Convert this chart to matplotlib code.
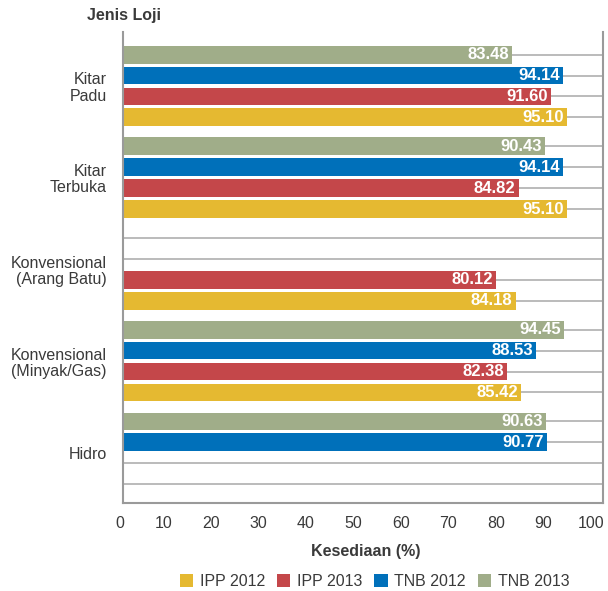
import numpy as np
import matplotlib.pyplot as plt
from matplotlib.patches import Patch

plt.rcParams['font.family'] = ['Liberation Sans', 'DejaVu Sans']

# data
categories = ["Kitar\nPadu", "Kitar\nTerbuka", "Konvensional\n(Arang Batu)",
              "Konvensional\n(Minyak/Gas)", "Hidro"]
series = ["TNB 2013", "TNB 2012", "IPP 2013", "IPP 2012"]
tnb_2013 = [83.48, 90.43, None, 94.45, 90.63]
tnb_2012 = [94.14, 94.14, None, 88.53, 90.77]
ipp_2013 = [91.60, 84.82, 80.12, 82.38, None]
ipp_2012 = [95.10, 95.10, 84.18, 85.42, None]
x_ticks = [10, 20, 30, 40, 50, 60, 70, 80, 90, 100]

colors = {"TNB 2013": "#A0AD89", "TNB 2012": "#0070BA",
          "IPP 2013": "#C4474A", "IPP 2012": "#E5B931"}
values = {"TNB 2013": tnb_2013, "TNB 2012": tnb_2012,
          "IPP 2013": ipp_2013, "IPP 2012": ipp_2012}

text_col = "#3a3a3a"
grid_col = "#a8a8a8"
group_step = 4.39
fs = 11.5

fig = plt.figure(figsize=(6.08, 5.91), dpi=100)
ax = fig.add_axes([0.2031, 0.1484, 0.788, 0.798])

# horizontal guide line through every slot
for g in range(len(categories)):
    for s in range(len(series)):
        ax.axhline(g * group_step + s, color=grid_col, lw=1.1, zorder=1)

for s, name in enumerate(series):
    for g, v in enumerate(values[name]):
        if v is None:
            continue
        y = g * group_step + s
        ax.barh(y, v, height=0.85, color=colors[name], zorder=2)
        ax.text(v - 0.7, y, f"{v:.2f}", ha="right", va="center", color="white",
                fontsize=12, fontweight="bold", zorder=3)

ax.set_xlim(1.62, 102.5)
ax.set_ylim(4 * group_step + 3 + 0.92, -1.1)

ax.set_xticks(x_ticks)
ax.set_xticklabels([str(t) for t in x_ticks], fontsize=fs, color=text_col)
ax.tick_params(axis="x", length=0, pad=9)
ax.text(0.75, -0.0265, "0", transform=ax.get_xaxis_transform(), ha="center", va="top",
        fontsize=fs, color=text_col, clip_on=False)

ax.set_yticks([g * group_step + 1.5 for g in range(len(categories))])
ax.set_yticklabels(categories, fontsize=fs, color=text_col, linespacing=1.1,
                   multialignment="right")
ax.tick_params(axis="y", length=0, pad=12)

for side in ["left", "right", "bottom"]:
    ax.spines[side].set_color("#9a9a9a")
    ax.spines[side].set_linewidth(1.5)
ax.spines["top"].set_visible(False)

fig.text(124 / 608, 1 - 15.7 / 591, "Jenis Loji", ha="center", va="center",
         fontsize=fs, fontweight="bold", color=text_col)
fig.text(366 / 608, 1 - 551.5 / 591, "Kesediaan (%)", ha="center", va="center",
         fontsize=fs, fontweight="bold", color=text_col)

legend_order = ["IPP 2012", "IPP 2013", "TNB 2012", "TNB 2013"]
handles = [Patch(facecolor=colors[n], label=n) for n in legend_order]
leg = fig.legend(handles=handles, loc="center", bbox_to_anchor=(374.5 / 608, 1 - 581.7 / 591),
                 ncol=4, frameon=False, fontsize=fs, handlelength=0.85, handleheight=0.85,
                 handletextpad=0.4, columnspacing=0.75, borderpad=0)
for t in leg.get_texts():
    t.set_color(text_col)

fig.savefig("out.png", dpi=100)
